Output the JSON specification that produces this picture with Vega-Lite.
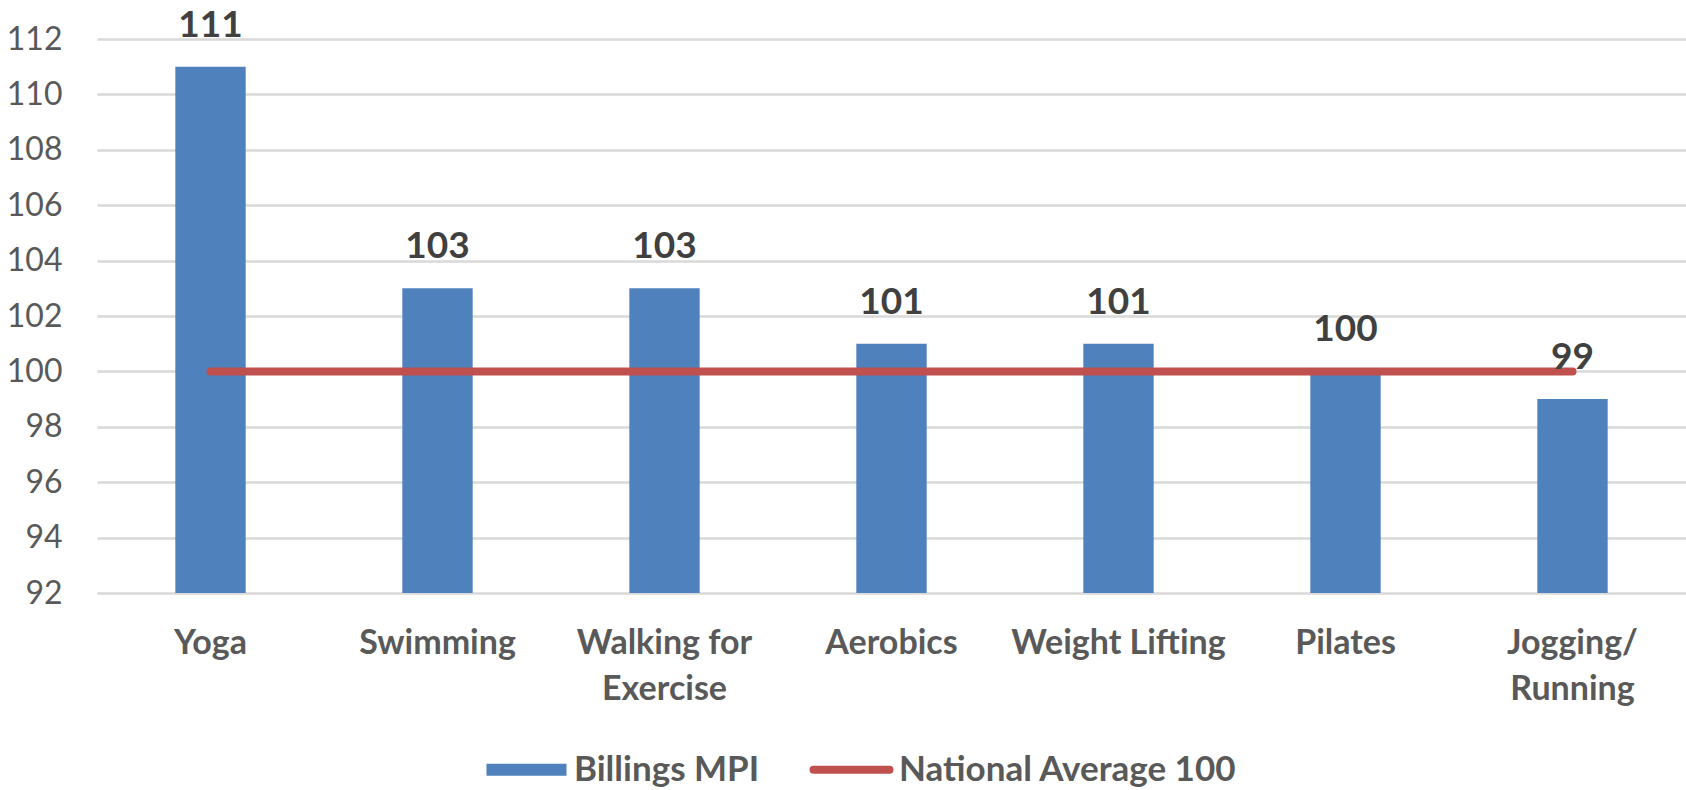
{
  "$schema": "https://vega.github.io/schema/vega-lite/v6.json",
  "autosize": {"type": "none"},
  "width": 1589,
  "height": 554,
  "padding": {"left": 97, "top": 39, "right": 0, "bottom": 197},
  "background": "white",
  "config": {
    "view": {"stroke": null},
    "font": "Lato"
  },
  "data": {
    "values": [
      {"activity": "Yoga", "mpi": 111, "national": 100},
      {"activity": "Swimming", "mpi": 103, "national": 100},
      {"activity": "Walking for Exercise", "mpi": 103, "national": 100},
      {"activity": "Aerobics", "mpi": 101, "national": 100},
      {"activity": "Weight Lifting", "mpi": 101, "national": 100},
      {"activity": "Pilates", "mpi": 100, "national": 100},
      {"activity": "Jogging/Running", "mpi": 99, "national": 100}
    ]
  },
  "encoding": {
    "x": {
      "field": "activity",
      "type": "nominal",
      "sort": null,
      "scale": {"paddingInner": 0.69, "paddingOuter": 0.345},
      "axis": {
        "title": null,
        "domain": false,
        "ticks": false,
        "labelAngle": 0,
        "labelFont": "Lato",
        "labelFontWeight": "bold",
        "labelFontSize": 34,
        "labelColor": "#595959",
        "labelPadding": 33,
        "labelLineHeight": 46,
        "labelLimit": 0,
        "labelExpr": "datum.label == 'Walking for Exercise' ? ['Walking for', 'Exercise'] : datum.label == 'Jogging/Running' ? ['Jogging/', 'Running'] : datum.label"
      }
    }
  },
  "layer": [
    {
      "mark": {"type": "bar", "fill": "#4f81bd"},
      "encoding": {
        "y": {
          "field": "mpi",
          "type": "quantitative",
          "scale": {"domain": [92, 112], "zero": false, "nice": false},
          "axis": {
            "title": null,
            "values": [92, 94, 96, 98, 100, 102, 104, 106, 108, 110, 112],
            "domain": false,
            "ticks": false,
            "grid": true,
            "gridColor": "#d9d9d9",
            "gridWidth": 2.5,
            "labelFont": "Lato",
            "labelFontSize": 32,
            "labelColor": "#595959",
            "labelPadding": 35
          }
        },
        "y2": {"datum": 92},
        "color": {
          "datum": "Billings MPI",
          "scale": {"domain": ["Billings MPI", "National Average 100"], "range": ["#4f81bd", "#c0504d"]},
          "legend": {
            "title": null,
            "orient": "none",
            "direction": "horizontal",
            "legendX": 412,
            "legendY": 713,
            "padding": 0,
            "columnPadding": 37,
            "symbolSize": 6400,
            "labelFont": "Lato",
            "labelFontWeight": "bold",
            "labelFontSize": 35,
            "labelColor": "#595959",
            "labelOffset": 30,
            "labelLimit": 0,
            "encode": {
              "symbols": {
                "update": {
                  "shape": {"signal": "datum.value == 'Billings MPI' ? 'M-1,-0.15H1V0.15H-1Z' : 'M-0.95,0H0.95'"},
                  "fill": {"signal": "datum.value == 'Billings MPI' ? '#4f81bd' : 'transparent'"},
                  "stroke": {"signal": "datum.value == 'Billings MPI' ? '#4f81bd' : '#c0504d'"},
                  "strokeWidth": {"signal": "datum.value == 'Billings MPI' ? 0 : 8"},
                  "strokeCap": {"value": "round"},
                  "opacity": {"value": 1}
                }
              }
            }
          }
        }
      }
    },
    {
      "mark": {"type": "line", "stroke": "#c0504d", "strokeWidth": 8, "strokeCap": "round"},
      "encoding": {
        "y": {"field": "national", "type": "quantitative"},
        "color": {"datum": "National Average 100"}
      }
    },
    {
      "mark": {"type": "text", "baseline": "alphabetic", "dy": -30, "font": "Lato", "fontWeight": "bold", "fontSize": 37, "fill": "#404040"},
      "encoding": {
        "y": {"field": "mpi", "type": "quantitative"},
        "text": {"field": "mpi", "type": "quantitative"}
      }
    }
  ]
}
